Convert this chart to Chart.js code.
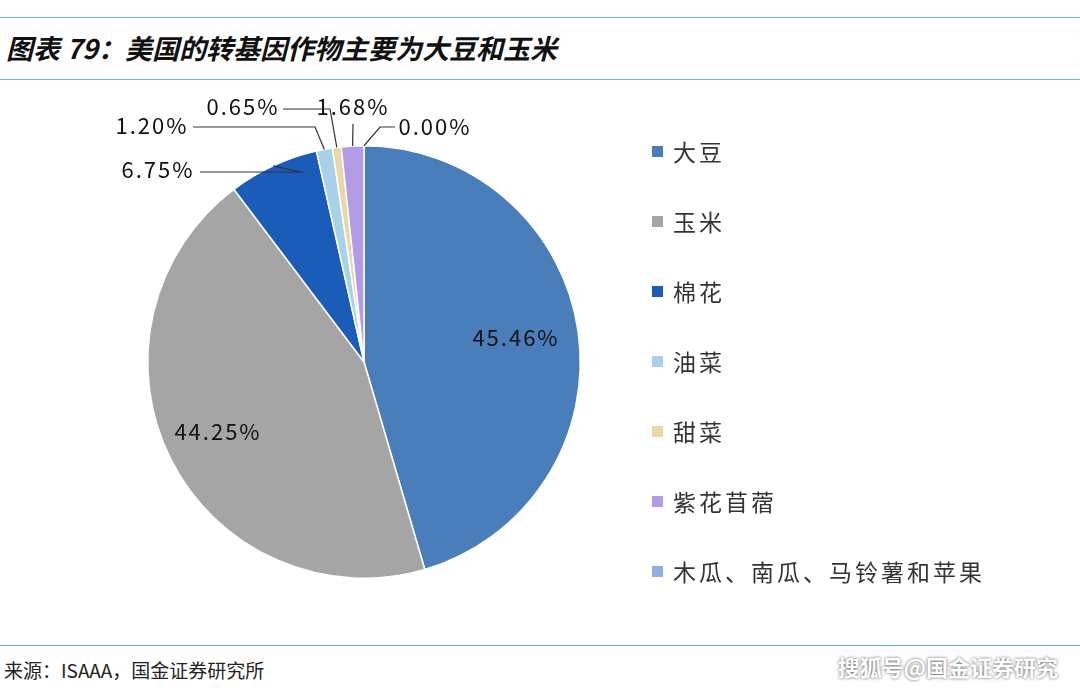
<!DOCTYPE html>
<html><head><meta charset="utf-8">
<script src="https://cdn.jsdelivr.net/npm/chart.js@4"></script>
<style>
body{margin:0;width:1080px;height:688px;background:#fff;position:relative;overflow:hidden;font-family:"Noto Sans CJK SC",sans-serif}
.ln{position:absolute;left:0;width:1080px;height:1px;background:#6bbcc8}
#title{position:absolute;left:6px;top:28px;font-size:27px;font-weight:bold;font-style:italic;color:#111}
#wrap{position:absolute;left:0;top:80px;width:1080px;height:560px}
#legend{position:absolute;left:652px;top:134px;font-size:23px;color:#333;letter-spacing:3px}
#legend div{height:70px;display:flex;align-items:flex-start}
#legend span{display:inline-block;width:11px;height:11px;margin:12px 10px 0 0}
#src{position:absolute;left:4px;top:656px;font-size:19px;color:#222}
#wm{position:absolute;right:22px;top:650px;font-size:22px;color:#fff;font-weight:bold;text-shadow:0 0 3px #555}
</style></head><body>
<div class="ln" style="top:17px"></div>
<div id="title">图表 79：美国的转基因作物主要为大豆和玉米</div>
<div class="ln" style="top:79px"></div>
<div id="wrap"><canvas id="c"></canvas></div>
<div id="legend"></div>
<div class="ln" style="top:645px"></div>
<div id="src">来源：ISAAA，国金证券研究所</div>
<div id="wm">搜狐号@国金证券研究</div>
<script>
/* ---- data ---- */
const crops  = ['大豆','玉米','棉花','油菜','甜菜','紫花苜蓿','木瓜、南瓜、马铃薯和苹果'];
const shares = [45.46, 44.25, 6.75, 1.20, 0.65, 1.68, 0.00];
const colors = ['#4a7ebb','#a5a5a5','#1a5cb8','#a9d1e8','#e8d8a6','#b39be6','#8fb0e0'];

/* ---- legend ---- */
document.getElementById('legend').innerHTML =
  crops.map((c,i)=>`<div><span style="background:${colors[i]}"></span>${c}</div>`).join('');

/* label positions: inside labels at [x,y]; outside labels with leader elbow */
const labelPos = [
  {x:516,y:258,inside:true},
  {x:218,y:352,inside:true},
  {x:158,y:90,lx:200,ly:92,ex:300},
  {x:152,y:46,lx:193,ly:47,ex:315},
  {x:243,y:27,lx:283,ly:29,ex:330},
  {x:353,y:27,lx:353,ly:44,ex:353},
  {x:435,y:47,lx:395,ly:47,ex:380}
];

const labels = {
  id:'labels',
  afterDatasetsDraw(ch){
    const ctx = ch.ctx;
    const arcs = ch.getDatasetMeta(0).data;
    ctx.save();
    ctx.font = '22px "Noto Sans CJK SC"';
    ctx.fillStyle = '#111'; ctx.strokeStyle = '#333'; ctx.lineWidth = 1.2;
    ctx.textAlign = 'center'; ctx.textBaseline = 'middle';
    shares.forEach((v,i)=>{
      const p = labelPos[i], a = arcs[i];
      const txt = v.toFixed(2).split('').join(' ').replace(/ (\d) (\d)$/,' $1$2').replace(' . ','. ')+'%';
      const t = v.toFixed(2)+'%';
      if(!p.inside){
        const mid = (a.startAngle+a.endAngle)/2;
        const r = a.outerRadius;
        const px = a.x+Math.cos(mid)*r, py = a.y+Math.sin(mid)*r;
        ctx.beginPath(); ctx.moveTo(p.lx,p.ly); ctx.lineTo(p.ex,p.ly); ctx.lineTo(px,py); ctx.stroke();
      }
      ctx.letterSpacing = '2px';
      ctx.fillText(t,p.x,p.y);
    });
    ctx.restore();
  }
};

new Chart(document.getElementById('c'),{
  type:'pie',
  data:{labels:crops,datasets:[{data:shares,backgroundColor:colors,borderColor:'#fff',borderWidth:1.5}]},
  options:{
    responsive:true,maintainAspectRatio:false,animation:false,
    layout:{padding:{left:147,right:499,top:65,bottom:61}},
    plugins:{legend:{display:false},tooltip:{enabled:false}}
  },
  plugins:[labels]
});
</script>
</body></html>
